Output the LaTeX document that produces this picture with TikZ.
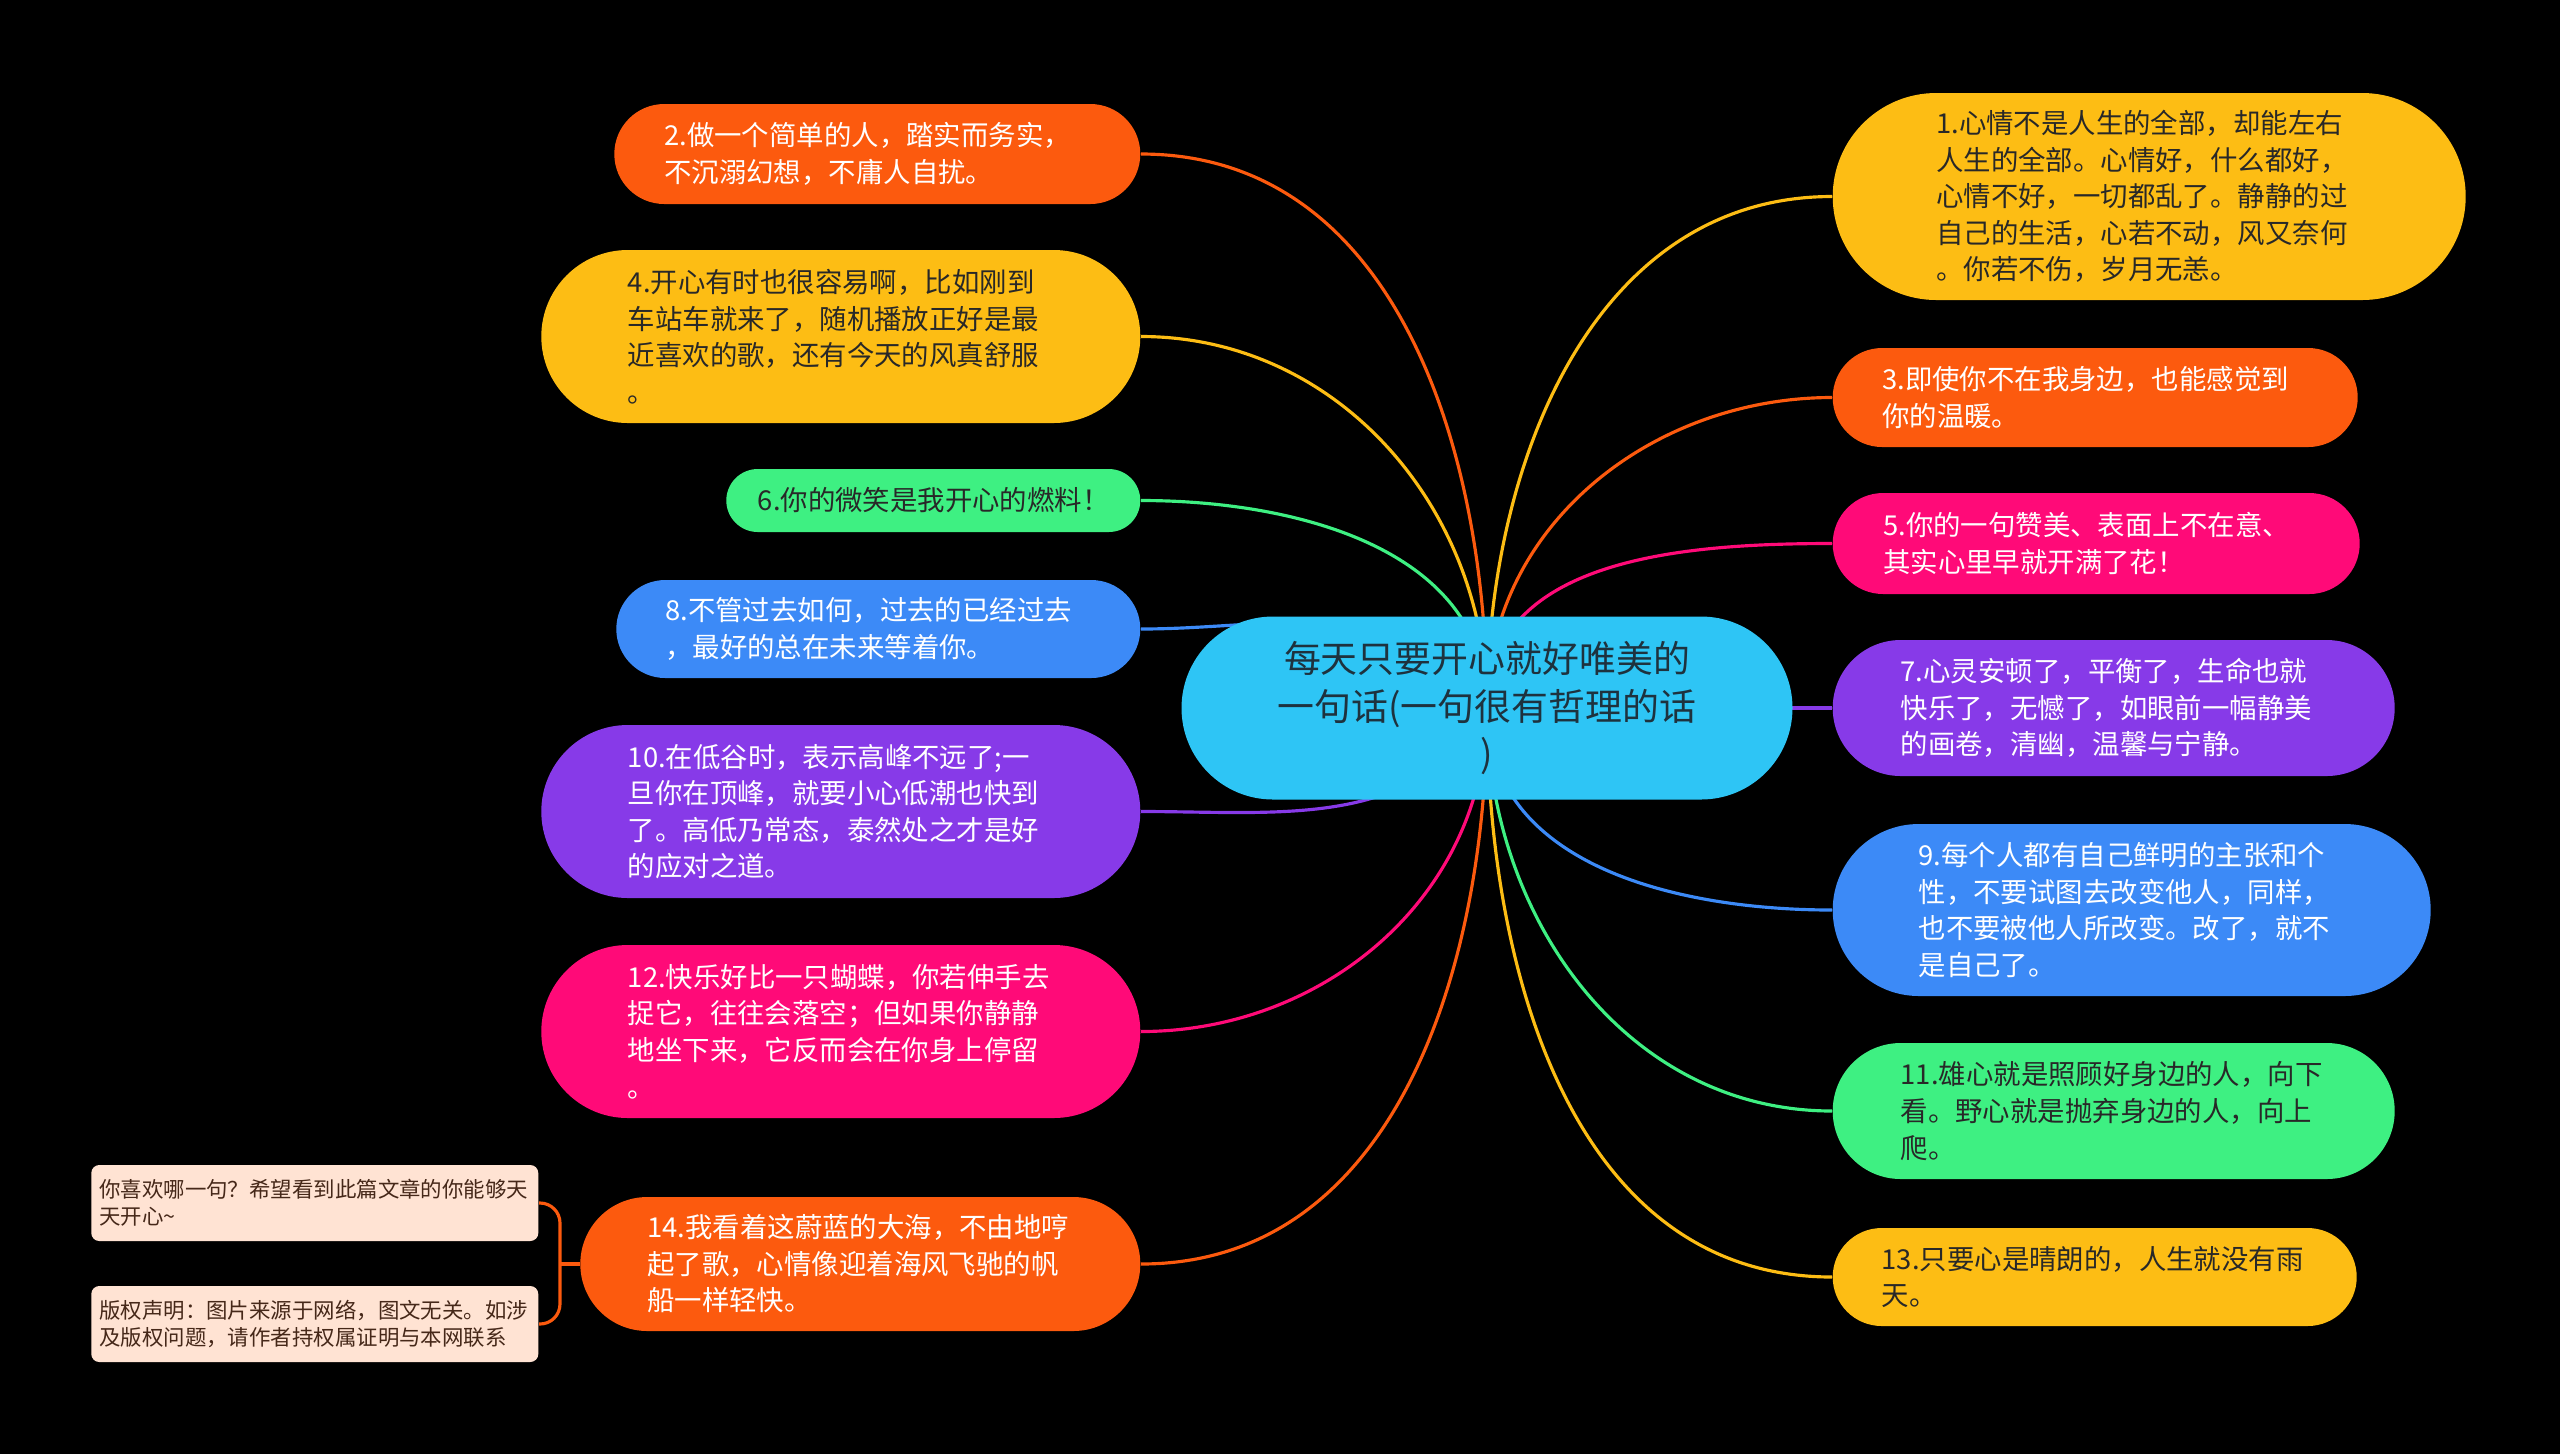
\documentclass[tikz,border=0pt]{standalone}
\usepackage{fontspec}
\newfontfamily\cjk{Noto Sans CJK SC}
\usetikzlibrary{shapes.misc}
\pgfdeclarelayer{back}
\pgfdeclarelayer{lines}
\pgfsetlayers{back,lines,main}
\definecolor{cOrange}{RGB}{252,90,14}
\definecolor{cYellow}{RGB}{253,189,20}
\definecolor{cGreen}{RGB}{62,240,130}
\definecolor{cBlue}{RGB}{60,138,247}
\definecolor{cPurple}{RGB}{135,58,232}
\definecolor{cPink}{RGB}{255,10,120}
\definecolor{cCyan}{RGB}{46,197,245}
\definecolor{cNote}{RGB}{255,227,211}
\definecolor{cDark}{RGB}{40,40,40}
\definecolor{cRootText}{RGB}{30,50,62}
\definecolor{cNoteText}{RGB}{70,40,25}

\begin{document}
\begin{tikzpicture}[
    leaf/.style={rounded rectangle, inner xsep=0pt, inner ysep=0pt,
        text width=4.26cm, align=left, minimum height=#1,
        minimum width=4.26cm+#1,
        font=\cjk\fontsize{7.8pt}{10.4pt}\selectfont},
    lt/.style={leaf=#1, anchor=east},
    rt/.style={leaf=#1, anchor=west},
    wbox/.style={fill=#1, text=white},
    dbox/.style={fill=#1, text=cDark},
    rootbox/.style={rounded rectangle, fill=cCyan, text=cRootText,
        inner xsep=0pt, inner ysep=0pt, text width=4.28cm, align=center,
        minimum height=1.83cm, minimum width=6.11cm,
        font=\cjk\fontsize{10.5pt}{13.6pt}\selectfont},
    notebox/.style={rectangle, rounded corners=0.08cm, fill=cNote,
        text=cNoteText, anchor=east, minimum height=0.76cm,
        inner xsep=0.08cm, inner ysep=0pt, text width=4.31cm, align=left,
        font=\cjk\fontsize{6.1pt}{7.8pt}\selectfont},
    edge/.style={draw=#1, line width=0.9pt}
]
\begin{pgfonlayer}{back}
\fill[black] (0,0) rectangle (25.6,-14.54);
\end{pgfonlayer}
\useasboundingbox (0,0) rectangle (25.6,-14.54);

%Centre
\node[rootbox] (root) at (14.87,-7.08)
    {每天只要开心就好唯美的\\一句话(一句很有哲理的话\\)};

%Left side
\node[lt=1.00cm, wbox=cOrange] (n2) at (11.41,-1.54)
    {2.做一个简单的人，踏实而务实，\\不沉溺幻想，不庸人自扰。};
\node[lt=1.73cm, dbox=cYellow] (n4) at (11.41,-3.365)
    {4.开心有时也很容易啊，比如刚到\\车站车就来了，随机播放正好是最\\近喜欢的歌，还有今天的风真舒服\\。};
\node[lt=0.63cm, dbox=cGreen, text width=3.51cm, minimum width=4.14cm] (n6) at (11.41,-5.005)
    {6.你的微笑是我开心的燃料！};
\node[lt=0.98cm, wbox=cBlue] (n8) at (11.41,-6.29)
    {8.不管过去如何，过去的已经过去\\，最好的总在未来等着你。};
\node[lt=1.73cm, wbox=cPurple] (n10) at (11.41,-8.115)
    {10.在低谷时，表示高峰不远了;一\\旦你在顶峰，就要小心低潮也快到\\了。高低乃常态，泰然处之才是好\\的应对之道。};
\node[lt=1.73cm, wbox=cPink] (n12) at (11.41,-10.315)
    {12.快乐好比一只蝴蝶，你若伸手去\\捉它，往往会落空；但如果你静静\\地坐下来，它反而会在你身上停留\\。};
\node[lt=1.34cm, wbox=cOrange] (n14) at (11.41,-12.64)
    {14.我看着这蔚蓝的大海，不由地哼\\起了歌，心情像迎着海风飞驰的帆\\船一样轻快。};

%Right side
\node[rt=2.07cm, dbox=cYellow] (n1) at (18.32,-1.965)
    {1.心情不是人生的全部，却能左右\\人生的全部。心情好，什么都好，\\心情不好，一切都乱了。静静的过\\自己的生活，心若不动，风又奈何\\。你若不伤，岁月无恙。};
\node[rt=0.99cm, wbox=cOrange] (n3) at (18.32,-3.975)
    {3.即使你不在我身边，也能感觉到\\你的温暖。};
\node[rt=1.01cm, wbox=cPink] (n5) at (18.32,-5.435)
    {5.你的一句赞美、表面上不在意、\\其实心里早就开满了花！};
\node[rt=1.36cm, wbox=cPurple] (n7) at (18.32,-7.08)
    {7.心灵安顿了，平衡了，生命也就\\快乐了，无憾了，如眼前一幅静美\\的画卷，清幽，温馨与宁静。};
\node[rt=1.72cm, wbox=cBlue] (n9) at (18.32,-9.10)
    {9.每个人都有自己鲜明的主张和个\\性，不要试图去改变他人，同样，\\也不要被他人所改变。改了，就不\\是自己了。};
\node[rt=1.36cm, dbox=cGreen] (n11) at (18.32,-11.11)
    {11.雄心就是照顾好身边的人，向下\\看。野心就是抛弃身边的人，向上\\爬。};
\node[rt=0.98cm, dbox=cYellow] (n13) at (18.32,-12.77)
    {13.只要心是晴朗的，人生就没有雨\\天。};

%Notes
\node[notebox] (note1) at (5.39,-12.03)
    {你喜欢哪一句？希望看到此篇文章的你能够天\\天开心\textasciitilde};
\node[notebox] (note2) at (5.39,-13.24)
    {版权声明：图片来源于网络，图文无关。如涉\\及版权问题，请作者持权属证明与本网联系};
\coordinate (fork) at (5.60,-12.64);

\begin{pgfonlayer}{lines}
%Left branches
\draw[edge=cOrange] (root.center) to[out=90,in=0] (n2.east);
\draw[edge=cYellow] (root.center) to[out=90,in=0] (n4.east);
\draw[edge=cGreen] (root.center) to[out=90,in=0] (n6.east);
\draw[edge=cBlue] (root.center) to[out=120,in=0] (n8.east);
\draw[edge=cPurple] (root.center) to[out=240,in=0] (n10.east);
\draw[edge=cPink] (root.center) to[out=270,in=0] (n12.east);
\draw[edge=cOrange] (root.center) to[out=270,in=0] (n14.east);
%Right branches
\draw[edge=cYellow] (root.center) to[out=90,in=180] (n1.west);
\draw[edge=cOrange] (root.center) to[out=90,in=180] (n3.west);
\draw[edge=cPink] (root.center) to[out=90,in=180] (n5.west);
\draw[edge=cPurple] (root.center) -- (n7.west);
\draw[edge=cBlue] (root.center) to[out=270,in=180] (n9.west);
\draw[edge=cGreen] (root.center) to[out=270,in=180] (n11.west);
\draw[edge=cYellow] (root.center) to[out=270,in=180] (n13.west);
%Notes bracket
\draw[edge=cOrange] (n14.west) -- (fork);
\draw[edge=cOrange, rounded corners=0.2cm] (note1.east) -| (fork) |- (note2.east);
\end{pgfonlayer}
\end{tikzpicture}
\end{document}
